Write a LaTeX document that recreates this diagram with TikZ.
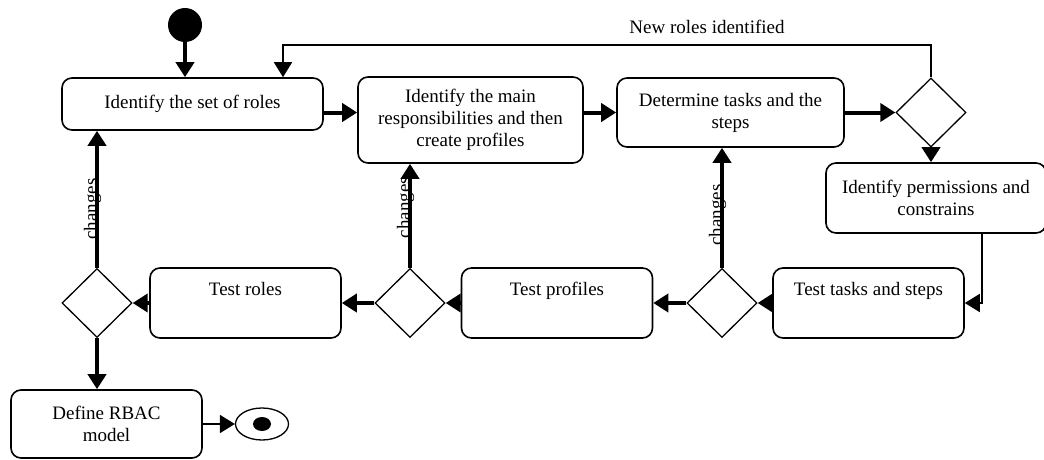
\documentclass[tikz,border=0pt]{standalone}
\usepackage{fontspec}
\setmainfont{Liberation Serif}
\usetikzlibrary{shapes.geometric,arrows.meta}

\begin{document}
\begin{tikzpicture}[x=1pt, y=-1pt,
    font=\fontsize{19}{22}\selectfont,
    act/.style={draw, line width=1.6pt, rounded corners=10pt, align=center,
      inner sep=0pt, minimum width=191pt, minimum height=70pt},
    choice/.style={draw, diamond, line width=1.3pt, minimum width=70pt,
      minimum height=69pt, inner sep=0pt},
    flow/.style={line width=4pt, -{Triangle[length=15pt,width=18pt]}},
    thinflow/.style={line width=1.8pt, -{Triangle[length=15pt,width=18pt]}},
    chg/.style={pos=#1, rotate=90, anchor=base}]
      \clip (0,0) rectangle (1044,460);

      \node[circle, fill, minimum size=34pt, inner sep=0pt] (start) at (185,25) {};
      \node[act, minimum width=261pt, minimum height=52pt] (roles) at (192.5,104)
        {Identify the set of roles};
      \node[act, minimum width=225pt, minimum height=86pt] (resp) at (470.5,120)
        {Identify the main\\responsibilities and then\\create profiles};
      \node[act, minimum width=227pt, minimum height=69pt] (tasks) at (730.5,112.5)
        {Determine tasks and the\\steps};
      \node[choice] (newrole) at (931,112.5) {};
      \node[act, minimum width=220pt] (perms) at (936,198)
        {Identify permissions and\\constrains};

      \node[act] (testtasks) at (868.5,303) {Test tasks and steps\\\strut};
      \node[choice] (chktasks) at (722,303) {};
      \node[act] (testprof) at (557,303) {Test profiles\\\strut};
      \node[choice] (chkprof) at (410,303) {};
      \node[act] (testroles) at (245.5,303) {Test roles\\\strut};
      \node[choice] (chkroles) at (97,303) {};

      \node[act, minimum height=68pt] (rbac) at (106.5,424) {Define RBAC\\model};
      \node[ellipse, draw, line width=1.3pt, minimum width=53pt, minimum height=32pt,
        inner sep=0pt] (stop) at (262,424) {};
      \node[ellipse, fill, minimum width=18pt, minimum height=14pt, inner sep=0pt]
        (stopdot) at (stop) {};

      \node (newroles) at (707,27) {New roles identified};
      \coordinate (loop) at (283,45);

      \draw[flow] (start) -- (start |- roles.north);
      \draw[thinflow] (newrole.north) |- (loop) -- (loop |- roles.north);
      \draw[flow] (roles.east |- tasks) -- (resp.west |- tasks);
      \draw[flow] (resp.east |- tasks) -- (tasks.west);
      \draw[flow] (tasks) -- (newrole);
      \draw[flow] (newrole) -- (newrole |- perms.north);
      \draw[thinflow] ([xshift=46pt]perms.south) |- (testtasks.east);

      \draw[flow] (testtasks) -- (chktasks);
      \draw[flow] (chktasks) -- (testprof);
      \draw[flow] (testprof) -- (chkprof);
      \draw[flow] (chkprof) -- (testroles);
      \draw[flow] (testroles) -- (chkroles);

      \draw[flow] (chktasks) -- node[chg=0.44] {changes} (chktasks |- tasks.south);
      \draw[flow] (chkprof) -- node[chg=0.58] {changes} (chkprof |- resp.south);
      \draw[flow] (chkroles) -- node[chg=0.43] {changes} (chkroles |- roles.south);

      \draw[flow] (chkroles) -- (chkroles |- rbac.north);
      \draw[thinflow] (rbac) -- (stop);
    \end{tikzpicture}
\end{document}
